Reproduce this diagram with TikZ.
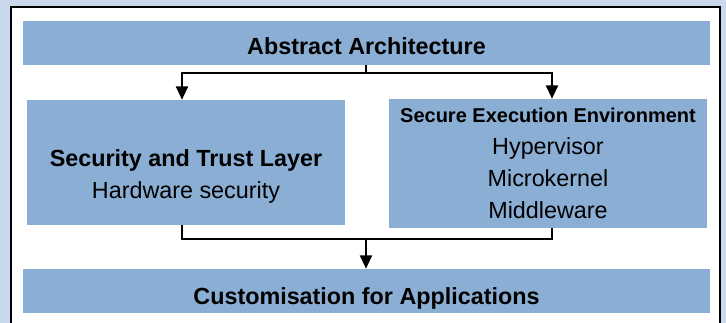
\documentclass[tikz,border=0pt]{standalone}
\usepackage{fontspec}
\setmainfont{Liberation Sans}
\usepackage{xcolor}
\usetikzlibrary{arrows.meta,positioning}
\definecolor{fundo}{HTML}{C9D9EB}
\definecolor{caixa}{HTML}{8BAED4}

\begin{document}
\begin{tikzpicture}[
    x=0.75pt, y=-0.75pt,
    bloco/.style={fill=caixa, inner sep=0pt, align=center, font=\fontsize{17.5}{24}\selectfont},
    faixa/.style={bloco, minimum width=515.25pt, minimum height=33pt, text depth=0pt},
    linha/.style={line width=1.5pt, black},
    seta/.style={linha, -{Triangle[length=10pt, width=9pt]}}
  ]
    \useasboundingbox (0,0) rectangle (726,323);
    \clip (0,0) rectangle (726,323);
    \fill[fundo] (0,0) rectangle (726,323);
    \draw[line width=1.5pt, fill=white] (11,7) rectangle (720,340);

    \node[faixa, text height=18pt] (arch) at (366.5,43) {\bfseries Abstract Architecture};
    \node[bloco, minimum width=238.5pt, minimum height=93.75pt] (sec) at (186,162.5) {};
    \node[align=center, font=\fontsize{17.5}{24}\selectfont] (sectxt) at (186,176) {\textbf{Security and Trust Layer}\\Hardware security};
    \node[bloco, minimum width=238.5pt, minimum height=96.75pt] (see) at (548,163.5) {{\bfseries\fontsize{15}{24}\selectfont Secure Execution Environment}\\Hypervisor\\Microkernel\\Middleware};
    \node[faixa, text height=21pt] (cust) at (366.5,291) {\bfseries Customisation for Applications};

    \coordinate (fork) at (366,73);
    \coordinate (merge) at (366,239);
    \draw[linha] (fork |- arch.south) -- (fork);
    \draw[seta] (fork) -| ([xshift=-3pt]sec.north);
    \draw[seta] (fork) -| ([xshift=3pt]see.north);
    \draw[linha] ([xshift=-3pt]sec.south) |- (merge) -| ([xshift=3pt]see.south);
    \draw[seta] (merge) -- (merge |- cust.north);
  \end{tikzpicture}
\end{document}
